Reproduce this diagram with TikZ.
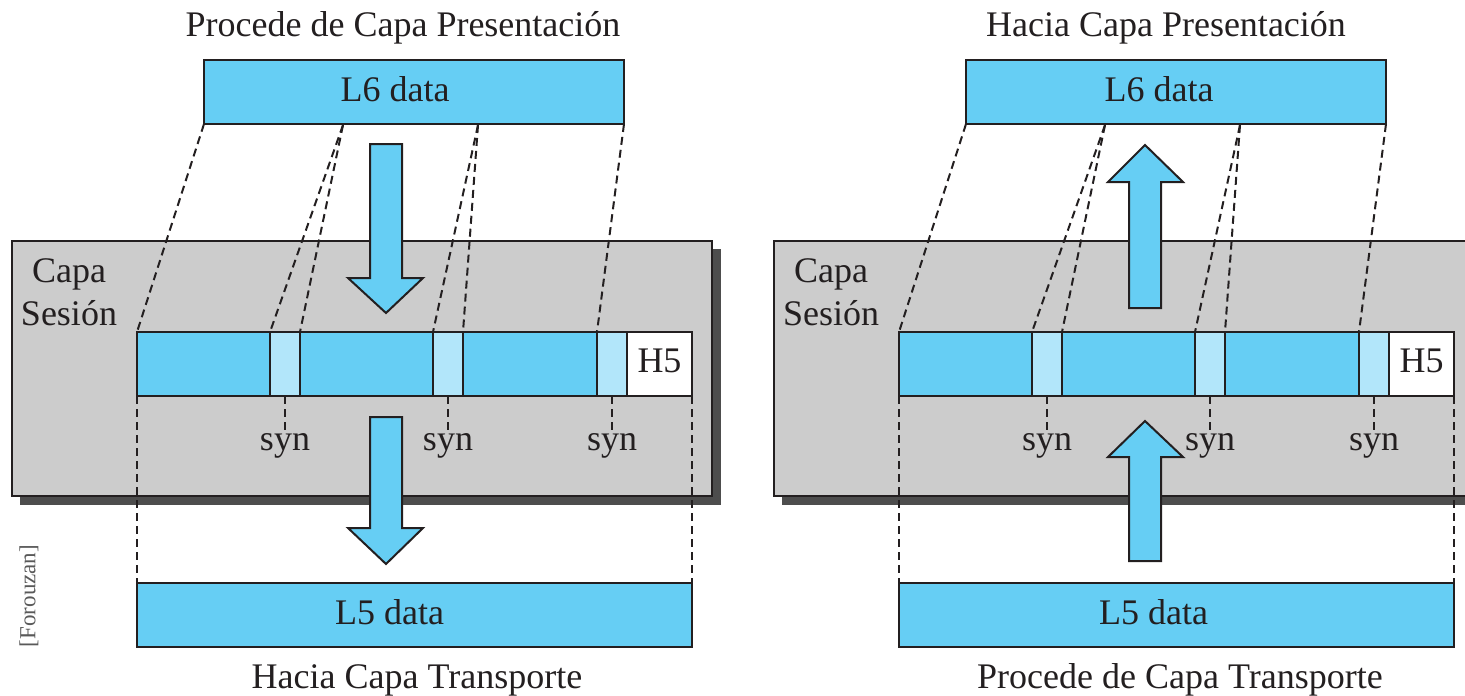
\documentclass[tikz,border=0pt]{standalone}
\usepackage{fontspec}
\setmainfont{Liberation Serif}
\usetikzlibrary{positioning}
\definecolor{capablue}{RGB}{102,206,244}
\definecolor{synblue}{RGB}{178,230,250}
\definecolor{capagray}{RGB}{204,204,204}
\definecolor{sombra}{RGB}{77,77,77}
\definecolor{trazo}{RGB}{35,31,32}
\tikzset{
  datos/.style={draw=trazo,fill=capablue,line width=2pt,inner sep=0pt,outer sep=0pt,minimum height=64},
  synbox/.style={datos,fill=synblue,minimum width=30},
  hdr/.style={datos,fill=white,minimum width=65},
  capa/.style={draw=trazo,fill=capagray,line width=2pt},
  bigarrow/.style={draw=trazo,fill=capablue,line width=2pt,line join=miter},
  guia/.style={draw=trazo,line width=2pt,dash pattern=on 8pt off 5pt},
  etq/.style={inner sep=1pt,anchor=north}
}
\begin{document}
\begin{tikzpicture}[x=1pt,y=-1pt,font=\fontsize{36}{44}\selectfont,text=trazo]
\useasboundingbox (0,0) rectangle (1465,696);

% ---- emisor ----
\node (titA) at (403,28) {Procede de Capa Presentación};
\node[datos,minimum width=420,anchor=north west] (l6A) at (204,60) {};
\node (l6Atxt) at ([xshift=-19pt,yshift=3pt]l6A.center) {L6 data};

\fill[sombra] (20,249) rectangle (721,505);
\draw[capa] (12,241) rectangle (712,496);
\node[align=center,inner sep=0pt] (sesA) at (69,292) {Capa\\[-1pt]Sesión};

\draw[bigarrow] (370,144) -- (402,144) -- (402,278) -- (423,278) -- (386,313) -- (348,278) -- (370,278) -- cycle;
\draw[bigarrow] (370,417) -- (402,417) -- (402,528) -- (423,528) -- (386,564) -- (348,528) -- (370,528) -- cycle;

\node[datos,minimum width=133,anchor=north west] (a1) at (137,332) {};
\node[synbox,right=0pt of a1] (ya1) {};
\node[datos,minimum width=133,right=0pt of ya1] (a2) {};
\node[synbox,right=0pt of a2] (ya2) {};
\node[datos,minimum width=134,right=0pt of ya2] (a3) {};
\node[synbox,right=0pt of a3] (ya3) {};
\node[hdr,right=0pt of ya3] (hA) {};
\node (hAtxt) at ([yshift=3pt]hA.center) {H5};

\node[datos,minimum width=555,anchor=north west] (l5A) at (137,583) {};
\node (l5Atxt) at ([xshift=-25pt,yshift=3pt]l5A.center) {L5 data};
\node (pieA) at (417,680) {Hacia Capa Transporte};

\coordinate (cA1) at (343,125);
\coordinate (cA2) at (478,125);
\draw[guia] (l6A.south west) -- (a1.north west);
\draw[guia] (cA1) -- (ya1.north west);
\draw[guia] (cA1) -- (ya1.north east);
\draw[guia] (cA2) -- (ya2.north west);
\draw[guia] (cA2) -- (ya2.north east);
\draw[guia] (l6A.south east) -- (ya3.north west);
\draw[guia] (a1.south west) -- (l5A.north west);
\draw[guia] (hA.south east) -- (l5A.north east);

\foreach \s in {1,2,3}{
  \node[etq] (synA\s) at ([yshift=-36pt]ya\s.south) {syn};
  \draw[guia] (ya\s.south) -- (synA\s.north);
}

% ---- receptor ----
\node (titB) at (1166,28) {Hacia Capa Presentación};
\node[datos,minimum width=420,anchor=north west] (l6B) at (966,60) {};
\node (l6Btxt) at ([xshift=-17pt,yshift=3pt]l6B.center) {L6 data};

\fill[sombra] (782,249) rectangle (1480,505);
\draw[capa] (774,241) rectangle (1475,496);
\node[align=center,inner sep=0pt] (sesB) at (831,292) {Capa\\[-1pt]Sesión};

\draw[bigarrow] (1129,308) -- (1161,308) -- (1161,182) -- (1183,182) -- (1145,145) -- (1108,182) -- (1129,182) -- cycle;
\draw[bigarrow] (1129,561) -- (1161,561) -- (1161,457) -- (1183,457) -- (1145,421) -- (1108,457) -- (1129,457) -- cycle;

\node[datos,minimum width=133,anchor=north west] (b1) at (899,332) {};
\node[synbox,right=0pt of b1] (yb1) {};
\node[datos,minimum width=133,right=0pt of yb1] (b2) {};
\node[synbox,right=0pt of b2] (yb2) {};
\node[datos,minimum width=134,right=0pt of yb2] (b3) {};
\node[synbox,right=0pt of b3] (yb3) {};
\node[hdr,right=0pt of yb3] (hB) {};
\node (hBtxt) at ([yshift=3pt]hB.center) {H5};

\node[datos,minimum width=555,anchor=north west] (l5B) at (899,583) {};
\node (l5Btxt) at ([xshift=-23pt,yshift=3pt]l5B.center) {L5 data};
\node (pieB) at (1180,680) {Procede de Capa Transporte};

\coordinate (cB1) at (1105,125);
\coordinate (cB2) at (1240,125);
\draw[guia] (l6B.south west) -- (b1.north west);
\draw[guia] (cB1) -- (yb1.north west);
\draw[guia] (cB1) -- (yb1.north east);
\draw[guia] (cB2) -- (yb2.north west);
\draw[guia] (cB2) -- (yb2.north east);
\draw[guia] (l6B.south east) -- (yb3.north west);
\draw[guia] (b1.south west) -- (l5B.north west);
\draw[guia] (hB.south east) -- (l5B.north east);

\foreach \s in {1,2,3}{
  \node[etq] (synB\s) at ([yshift=-36pt]yb\s.south) {syn};
  \draw[guia] (yb\s.south) -- (synB\s.north);
}

\node[rotate=90,text=black!65,font=\fontsize{23}{28}\selectfont] (fuente) at (29,596) {[Forouzan]};
\end{tikzpicture}
\end{document}
